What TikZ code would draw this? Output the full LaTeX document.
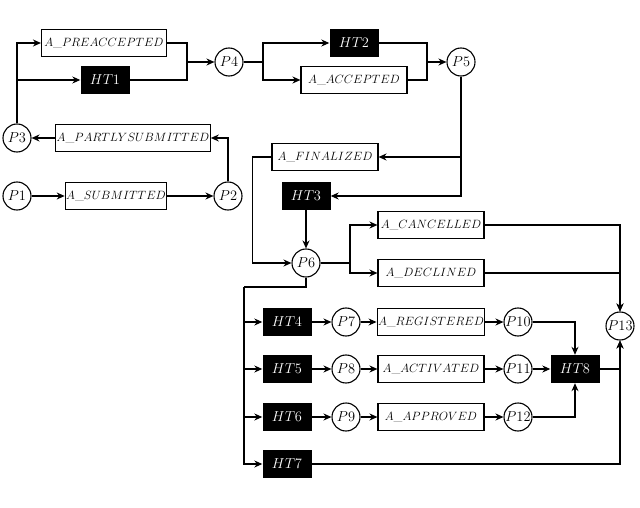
\documentclass[tikz,border=0pt]{standalone}
\usetikzlibrary{arrows.meta}
\begin{document}
\begin{tikzpicture}[x=1pt,y=-1pt,>={Stealth[length=8pt,width=7pt]},
  place/.style={circle,draw,line width=1.1pt,minimum size=28pt,inner sep=0pt,font=\Large},
  act/.style={draw,line width=1.1pt,minimum height=27pt,minimum width=106pt,inner sep=1pt,font=\large},
  hid/.style={fill=black,text=white,minimum height=28pt,minimum width=49pt,inner sep=0pt,font=\Large},
  arc/.style={line width=1.1pt,->},
  line/.style={line width=1.1pt}]
\useasboundingbox (0,0) rectangle (640,508);
% places
\node[place] (P1) at (17,196) {$P1$};
\node[place] (P2) at (228,196) {$P2$};
\node[place] (P3) at (17,138) {$P3$};
\node[place] (P4) at (229,62) {$P4$};
\node[place] (P5) at (461,62) {$P5$};
\node[place] (P6) at (306,263) {$P6$};
\node[place] (P7) at (346,322) {$P7$};
\node[place] (P8) at (346,369) {$P8$};
\node[place] (P9) at (346,417) {$P9$};
\node[place] (P10) at (518,322) {$P10$};
\node[place] (P11) at (518,369) {$P11$};
\node[place] (P12) at (518,417) {$P12$};
\node[place] (P13) at (620,326) {$P13$};
% activities
\node[act,minimum width=125pt] (pre) at (104,43) {$A\_PREACCEPTED$};
\node[act,minimum width=101pt] (sub) at (116,196) {$A\_SUBMITTED$};
\node[act,minimum width=153pt] (part) at (133,138) {$A\_PARTLYSUBMITTED$};
\node[act] (acc) at (354,80) {$A\_ACCEPTED$};
\node[act] (fin) at (325,157) {$A\_FINALIZED$};
\node[act] (can) at (431,225) {$A\_CANCELLED$};
\node[act] (dec) at (431,273) {$A\_DECLINED$};
\node[act] (reg) at (431,322) {$A\_REGISTERED$};
\node[act] (actv) at (431,369) {$A\_ACTIVATED$};
\node[act] (app) at (431,417) {$A\_APPROVED$};
% hidden transitions
\node[hid] (HT1) at (105,80) {$HT1$};
\node[hid] (HT2) at (354,43) {$HT2$};
\node[hid] (HT3) at (306,196) {$HT3$};
\node[hid] (HT4) at (287,322) {$HT4$};
\node[hid] (HT5) at (287,369) {$HT5$};
\node[hid] (HT6) at (287,417) {$HT6$};
\node[hid] (HT7) at (287,464) {$HT7$};
\node[hid] (HT8) at (575,369) {$HT8$};
% junction points
\coordinate (j3) at (17,80);
\coordinate (j4) at (187,62);
\coordinate (j4b) at (263,62);
\coordinate (j5) at (427,62);
\coordinate (j5b) at (461,157);
\coordinate (j6) at (350,263);
\coordinate (j6b) at (306,287);
\coordinate (bus) at (244,287);
% flow
\draw[arc] (P1) -- (sub);
\draw[arc] (sub) -- (P2);
\draw[arc] (P2.north) |- (part.east);
\draw[arc] (part) -- (P3);
\draw[arc] (P3.north) |- (pre.west);
\draw[arc] (j3) -- (HT1);
\draw[line] (pre.east) -| (j4);
\draw[line] (HT1.east) -| (j4);
\draw[arc] (j4) -- (P4);
\draw[line] (P4) -- (j4b);
\draw[arc] (j4b) |- (HT2.west);
\draw[arc] (j4b) |- (acc.west);
\draw[line] (HT2.east) -| (j5);
\draw[line] (acc.east) -| (j5);
\draw[arc] (j5) -- (P5);
\draw[arc] (P5.south) |- (fin.east);
\draw[arc] (j5b) |- (HT3.east);
\draw[arc] (fin.west) -| ++(-19,0) |- (P6.west);
\draw[arc] (HT3) -- (P6);
\draw[line] (P6) -- (j6);
\draw[arc] (j6) |- (can.west);
\draw[arc] (j6) |- (dec.west);
\draw[arc] (can.east) -| (P13.north);
\draw[arc] (dec.east) -| (P13.north);
\draw[line] (P6.south) -- (j6b) -- (bus);
\draw[arc] (bus) |- (HT4.west);
\draw[arc] (bus) |- (HT5.west);
\draw[arc] (bus) |- (HT6.west);
\draw[arc] (bus) |- (HT7.west);
\draw[arc] (HT4) -- (P7);
\draw[arc] (HT5) -- (P8);
\draw[arc] (HT6) -- (P9);
\draw[arc] (P7) -- (reg);
\draw[arc] (P8) -- (actv);
\draw[arc] (P9) -- (app);
\draw[arc] (reg) -- (P10);
\draw[arc] (actv) -- (P11);
\draw[arc] (app) -- (P12);
\draw[arc] (P10.east) -| (HT8.north);
\draw[arc] (P11) -- (HT8);
\draw[arc] (P12.east) -| (HT8.south);
\draw[arc] (HT8.east) -| (P13.south);
\draw[arc] (HT7.east) -| (P13.south);
\end{tikzpicture}
\end{document}
